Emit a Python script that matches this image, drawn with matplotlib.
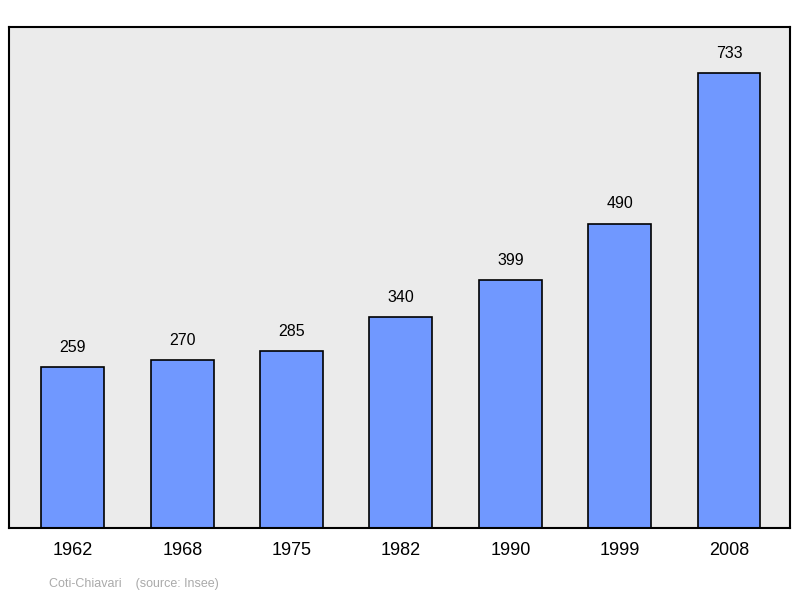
import matplotlib
matplotlib.use("Agg")
import matplotlib.pyplot as plt

years = ["1962", "1968", "1975", "1982", "1990", "1999", "2008"]
population = [259, 270, 285, 340, 399, 490, 733]

plt.rcParams['font.family'] = ['Liberation Sans', 'DejaVu Sans']
fig = plt.figure(figsize=(8, 5.98), dpi=100)
ax = fig.add_axes([9/800, 1-528/598, 781/800, 501/598])
ax.set_facecolor('#ebebeb')
x = list(range(len(years)))
ax.bar(x, population, width=0.576, color='#7098ff', edgecolor='black', linewidth=1.2, zorder=2)
for xi, v in zip(x, population):
    ax.text(xi, v + 20, str(v), ha='center', va='bottom', fontsize=11.5)
ax.set_xlim(-0.585, 6.558)
ax.set_ylim(0, 807)
ax.set_xticks(x)
ax.set_xticklabels(years, fontsize=13)
ax.tick_params(axis='x', length=0, pad=10)
ax.set_yticks([])
for s in ax.spines.values():
    s.set_linewidth(1.5)
fig.text(49/800, 1-584/598, "Coti-Chiavari    (source: Insee)", fontsize=9, color='#aaaaaa', va='center')
fig.savefig("out.png", dpi=100)
